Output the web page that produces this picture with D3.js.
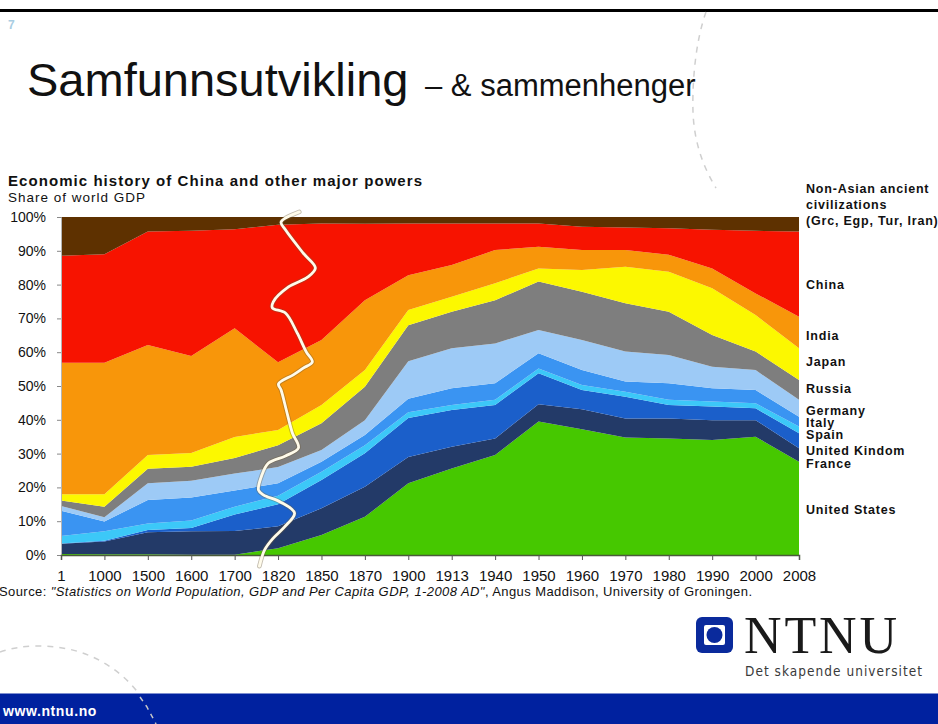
<!DOCTYPE html>
<html lang="no">
  <head>
    <meta charset="utf-8" />
    <title>Samfunnsutvikling</title>
    <style>
      html, body { margin: 0; padding: 0; background: #ffffff; }
      svg { display: block; font-family: "Liberation Sans", Arial, Helvetica, sans-serif; }
      .ytick text { font-size: 14px; fill: #111; }
      .xtick text { font-size: 15px; fill: #111; }
      .lab { font-size: 12.5px; font-weight: bold; fill: #111; letter-spacing: 0.8px; }
    </style>
    <script src="https://cdn.jsdelivr.net/npm/d3@7"></script>
  </head>
<body>
<svg width="938" height="724"></svg>
<script>
// periods on the x axis (equally spaced)
var years = ["1","1000","1500","1600","1700","1820","1850","1870","1900","1913","1940","1950","1960","1970","1980","1990","2000","2008"];

// share of world GDP, %
var unitedStates  = [0.3,0.2,0.2,0.1,0.1,2.0,5.9,11.3,21.2,25.6,29.6,39.5,37.2,34.8,34.5,34.0,35.0,27.6];
var france        = [3.0,3.8,6.5,6.9,7.0,6.5,7.9,8.9,7.8,6.4,4.9,5.1,5.9,5.6,5.9,5.9,4.9,4.0];
var unitedKingdom = [0.1,0.2,0.7,1.0,4.9,6.5,8.4,9.9,11.5,10.9,9.9,9.2,5.7,6.4,4.0,4.0,3.5,4.4];
var spain         = [2.2,2.8,1.9,2.2,2.3,2.5,2.4,2.4,1.7,1.5,1.5,1.4,1.5,1.5,1.5,1.5,1.5,2.0];
var italy         = [7.5,2.9,7.0,6.8,4.8,3.7,3.0,3.0,4.0,4.9,4.9,4.5,4.4,3.0,4.9,3.9,3.9,2.9];
var germany       = [1.4,1.3,4.9,5.0,5.0,4.8,3.5,4.4,11.1,11.9,11.8,6.9,8.9,8.9,8.4,6.4,5.9,5.0];
var russia        = [1.6,3.1,4.3,4.1,4.6,6.5,7.9,9.9,10.7,10.8,12.8,14.3,14.3,14.3,12.8,9.4,5.5,5.9];
var japan         = [1.9,3.7,4.1,4.1,6.2,4.5,5.4,4.9,4.5,4.4,5.0,3.9,6.4,10.8,11.8,13.8,10.8,9.4];
var india         = [38.9,38.9,32.5,28.7,32.2,20.0,19.2,20.7,10.3,9.4,9.8,6.4,5.9,4.9,5.0,5.9,6.4,9.3];
var china         = [31.6,32.1,33.6,37.0,29.3,40.7,34.5,22.6,15.3,12.3,7.9,6.9,6.9,6.7,7.9,11.4,18.5,25.2];
var ancientCivs   = [11.5,11.0,4.3,4.1,3.6,2.3,1.9,2.0,1.9,1.9,1.9,1.9,2.9,3.1,3.3,3.8,4.1,4.3];

var yTicks = [0,10,20,30,40,50,60,70,80,90,100];

// hand drawn line over the chart, in (period index, percent)
var scribble = [[5.49,101.5],[5.07,98.5],[5.17,96.2],[5.58,89.3],[5.86,84.9],[5.68,82.2],[5.24,79.3],
  [4.89,74.9],[4.87,73.1],[5.17,71.6],[5.44,65.7],[5.65,60.1],[5.79,57.1],[5.58,55.3],[5.35,53.3],
  [5.01,50.6],[5.07,48.8],[5.19,42.9],[5.33,36.1],[5.47,31.7],[5.17,29.3],[4.78,27.2],[4.62,23.4],
  [4.55,19.2],[4.66,17.8],[5.05,15.7],[5.38,12.4],[5.15,8.3],[4.89,5.0],[4.69,1.5],[4.57,-3.3]];

var series = [
  {key: "us", name: "United States", values: unitedStates, color: "#46c800"},
  {key: "fr", name: "France", values: france, color: "#233a68"},
  {key: "uk", name: "United Kindom", values: unitedKingdom, color: "#1b5fca"},
  {key: "es", name: "Spain", values: spain, color: "#3cc8f8"},
  {key: "it", name: "Italy", values: italy, color: "#3a94f2"},
  {key: "de", name: "Germany", values: germany, color: "#9dcaf6"},
  {key: "ru", name: "Russia", values: russia, color: "#7e7e7e"},
  {key: "jp", name: "Japan", values: japan, color: "#fcf800"},
  {key: "in", name: "India", values: india, color: "#f8960a"},
  {key: "cn", name: "China", values: china, color: "#f71300"},
  {key: "na", name: "Non-Asian", values: ancientCivs, color: "#5e3100"}
];

var table = years.map(function(y, i) {
  var row = {year: y};
  series.forEach(function(s) { row[s.key] = s.values[i]; });
  return row;
});

var svg = d3.select("svg");

// ---- slide decoration ----
svg.append("rect").attr("x", 0).attr("y", 9).attr("width", 938).attr("height", 3).attr("fill", "#000");
svg.append("text").attr("x", 8).attr("y", 29).attr("fill", "#a9cde2")
   .style("font-size", "12px").style("font-weight", "bold").text("7");

svg.append("path")
   .attr("d", "M706,12 C696,40 692,80 693,112 C694,140 702,165 716,188")
   .attr("fill", "none").attr("stroke", "#cfcfcf").attr("stroke-width", 1.5).attr("stroke-dasharray", "6,6");
svg.append("path")
   .attr("d", "M0,652 C20,645 50,643 80,652 C110,662 135,683 147,707 C150,713 153,718 156,724")
   .attr("fill", "none").attr("stroke", "#cfcfcf").attr("stroke-width", 1.5).attr("stroke-dasharray", "6,6");

svg.append("text").attr("x", 27).attr("y", 96).attr("fill", "#111")
   .style("font-size", "47px").text("Samfunnsutvikling");
svg.append("text").attr("x", 425).attr("y", 96).attr("fill", "#111")
   .style("font-size", "31px").text("\u2013 & sammenhenger");

// ---- chart ----
var x0 = 61, x1 = 799, yTop = 217, yBot = 555;
var x = d3.scalePoint().domain(years).range([x0, x1]);
var xi = d3.scaleLinear().domain([0, years.length - 1]).range([x0, x1]);
var y = d3.scaleLinear().domain([0, 100]).range([yBot, yTop]);

svg.append("text").attr("x", 8).attr("y", 186).style("font-size", "15px").style("font-weight", "bold")
   .attr("fill", "#111").attr("textLength", 414).text("Economic history  of China and other major powers");
svg.append("text").attr("x", 8).attr("y", 202).style("font-size", "13.5px").attr("fill", "#111")
   .attr("textLength", 137).text("Share of world GDP");

var stack = d3.stack().keys(series.map(function(s) { return s.key; }));
var layers = stack(table);

var area = d3.area()
  .x(function(d) { return x(d.data.year); })
  .y0(function(d) { return y(d[0]); })
  .y1(function(d) { return y(d[1]); });

svg.append("g").selectAll("path")
  .data(layers)
  .enter().append("path")
  .attr("fill", function(d, i) { return series[i].color; })
  .attr("d", area);

// y axis
var yAxis = svg.append("g").attr("class", "ytick")
  .attr("transform", "translate(" + x0 + ",0)")
  .call(d3.axisLeft(y).tickValues(yTicks).tickSize(4).tickPadding(11)
        .tickFormat(function(d) { return d + "%"; }));
yAxis.select(".domain").attr("stroke", "#b5b5b5");
yAxis.selectAll(".tick line").attr("stroke", "#888");

// x axis
var xAxis = svg.append("g").attr("class", "xtick")
  .attr("transform", "translate(0," + yBot + ")")
  .call(d3.axisBottom(x).tickSize(5).tickPadding(10));
xAxis.select(".domain").attr("stroke", "#4a5a3a").attr("stroke-width", 1.5);
xAxis.selectAll(".tick line").attr("stroke", "#555");

// source line
var src = svg.append("text").attr("x", -1).attr("y", 596).style("font-size", "13px").attr("fill", "#111")
   .attr("textLength", 753);
src.append("tspan").text("Source: ");
src.append("tspan").style("font-style", "italic")
   .text("\"Statistics on World Population, GDP and Per Capita GDP, 1-2008 AD\"");
src.append("tspan").text(", Angus Maddison, University of Groningen.");

// labels at right
var labels = [
  {t: "Non-Asian ancient", y: 193},
  {t: "civilizations", y: 209},
  {t: "(Grc, Egp, Tur, Iran)", y: 225},
  {t: "China", y: 289},
  {t: "India", y: 340},
  {t: "Japan", y: 366},
  {t: "Russia", y: 393},
  {t: "Germany", y: 415},
  {t: "Italy", y: 427},
  {t: "Spain", y: 439},
  {t: "United Kindom", y: 455},
  {t: "France", y: 468},
  {t: "United States", y: 514}
];
svg.append("g").selectAll("text").data(labels).enter().append("text")
  .attr("class", "lab").attr("x", 806).attr("y", function(d) { return d.y; })
  .text(function(d) { return d.t; });

// hand drawn scribble
var line = d3.line()
  .x(function(d) { return xi(d[0]); })
  .y(function(d) { return y(d[1]); })
  .curve(d3.curveCatmullRom);
svg.append("path").datum(scribble).attr("d", line)
  .attr("fill", "none").attr("stroke", "#6b5a3a").attr("stroke-opacity", 0.4).attr("stroke-width", 4.6)
  .attr("stroke-linecap", "round").attr("stroke-linejoin", "round");
svg.append("path").datum(scribble).attr("d", line)
  .attr("fill", "none").attr("stroke", "#fffbea").attr("stroke-width", 2.8)
  .attr("stroke-linecap", "round").attr("stroke-linejoin", "round");

// ---- NTNU logo and footer ----
svg.append("rect").attr("x", 696).attr("y", 617).attr("width", 37).attr("height", 36).attr("rx", 6).attr("fill", "#0a2a9c");
svg.append("rect").attr("x", 704).attr("y", 625).attr("width", 21).attr("height", 20).attr("rx", 2).attr("fill", "#ffffff");
svg.append("circle").attr("cx", 714.5).attr("cy", 635).attr("r", 8).attr("fill", "#0a2a9c");
svg.append("text").attr("x", 744).attr("y", 653).style("font-family", "'Liberation Serif', 'Times New Roman', serif")
   .style("font-size", "52px").attr("fill", "#1a1a1a").attr("textLength", 153).text("NTNU");
svg.append("text").attr("x", 745).attr("y", 676).style("font-family", "'DejaVu Sans Condensed', 'DejaVu Sans', sans-serif")
   .style("font-size", "13.5px").attr("fill", "#3a3a3a").attr("textLength", 177).text("Det skapende universitet");

svg.append("rect").attr("x", 0).attr("y", 693).attr("width", 938).attr("height", 31).attr("fill", "#00219f");
svg.append("rect").attr("x", 0).attr("y", 693).attr("width", 938).attr("height", 1).attr("fill", "#7f8fd0");
svg.append("text").attr("x", 3).attr("y", 716).style("font-size", "14px").style("font-weight", "bold")
   .style("letter-spacing", "0.6px").attr("fill", "#ffffff").text("www.ntnu.no");
svg.append("path").attr("d", "M140,697 L147,707 C150,713 153,718 156,724")
   .attr("fill", "none").attr("stroke", "#c8c8c8").attr("stroke-width", 1.5).attr("stroke-dasharray", "5,5");
</script>
</body>
</html>
